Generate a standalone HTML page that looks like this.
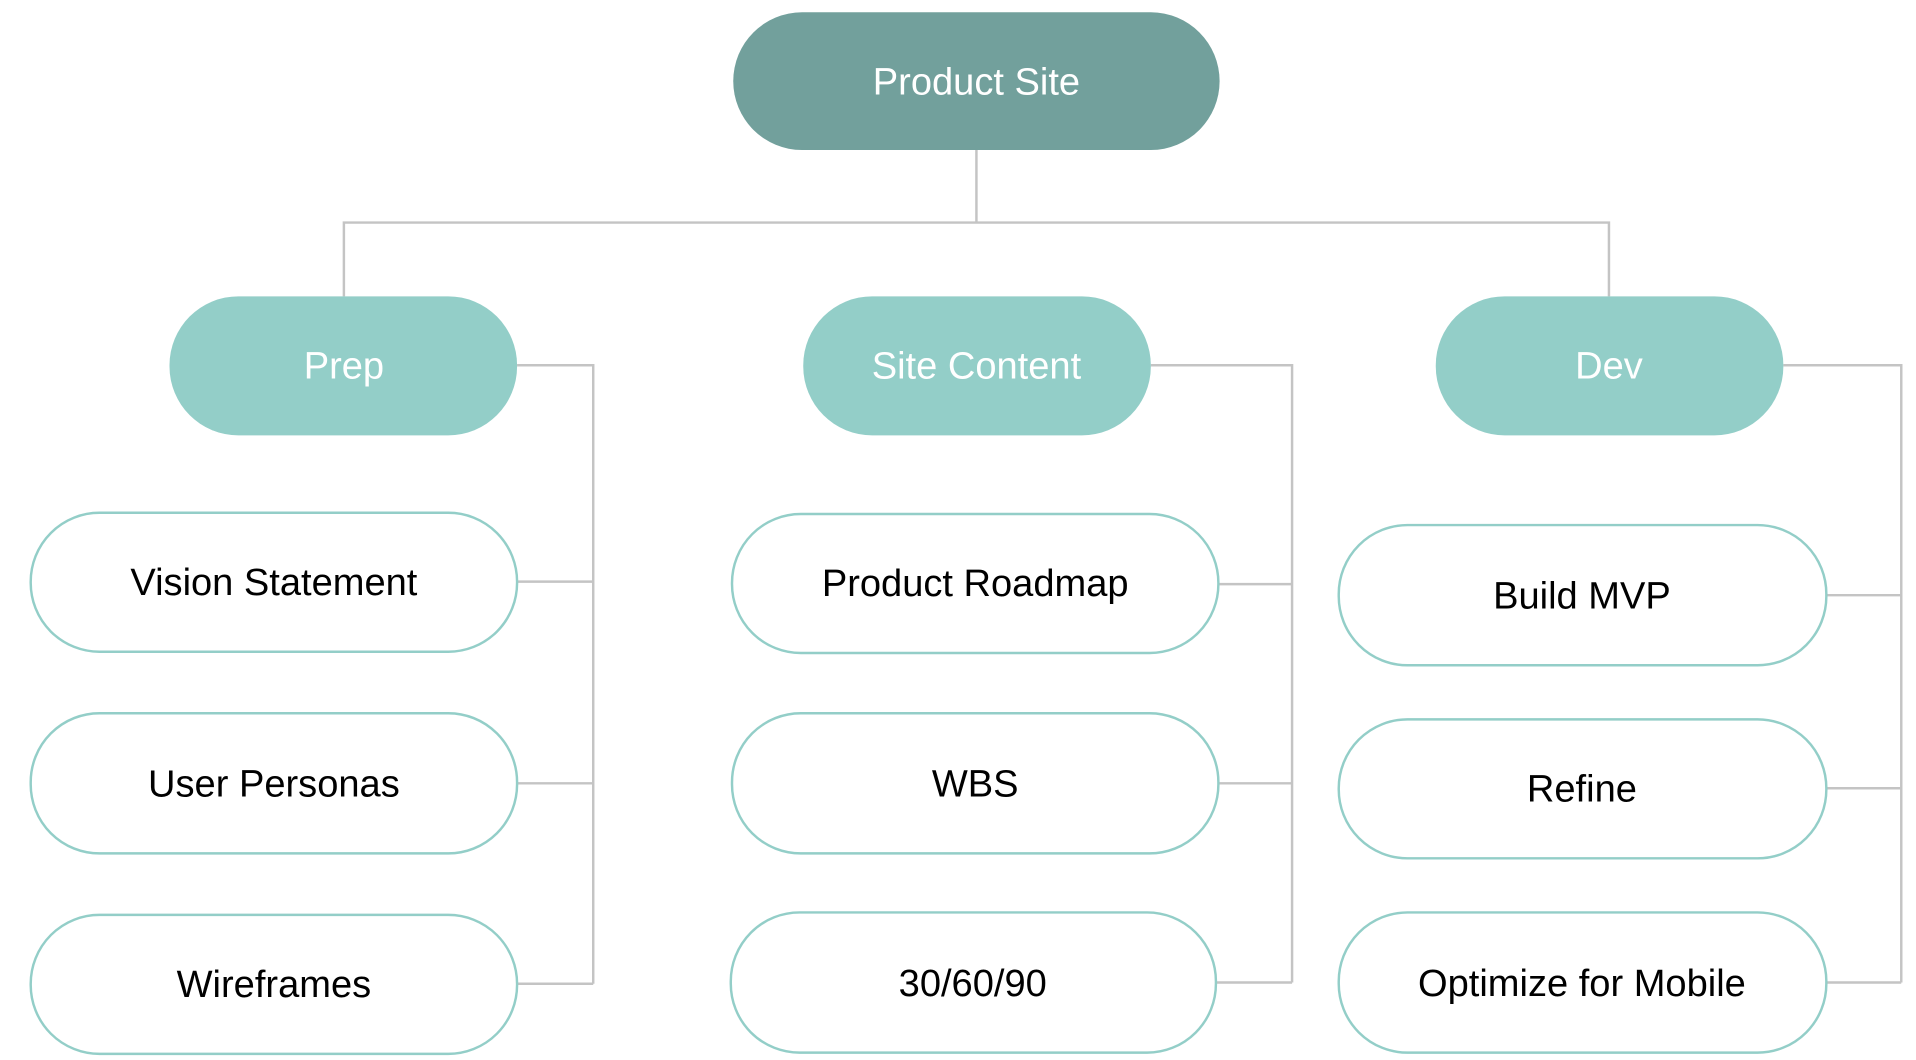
<!DOCTYPE html>
<html><head><meta charset="utf-8"><style>
html,body{margin:0;padding:0;background:#fff;width:1916px;height:1060px;overflow:hidden}
svg{display:block}
text{font-family:"Liberation Sans",sans-serif;font-size:31px;text-anchor:middle;dominant-baseline:central}
</style></head><body>
<svg width="1916" height="1060" viewBox="0 0 1560 862" preserveAspectRatio="none">
<g stroke="#c4c4c4" stroke-width="2" fill="none">
<path d="M795 122V181M280 241V181H1310V241"/>
<path d="M421 297H483V800M421 473H483M421 637H483M421 800H483"/>
<path d="M937 297H1052V799M992 475H1052M992 637H1052M990 799H1052"/>
<path d="M1452 297H1548V799M1487 484H1548M1487 641H1548M1487 799H1548"/>
</g>
<rect x="597" y="10" width="396" height="112" rx="56" fill="#72a09c"/>
<text x="795" y="67" fill="#fff">Product Site</text>
<g fill="#93cec8">
<rect x="138" y="241" width="283" height="113" rx="56"/>
<rect x="654" y="241" width="283" height="113" rx="56"/>
<rect x="1169" y="241" width="283" height="113" rx="56"/>
</g>
<g fill="#fff">
<text x="280" y="298">Prep</text>
<text x="795" y="298">Site Content</text>
<text x="1310" y="298">Dev</text>
</g>
<g fill="#fff" stroke="#93cec8" stroke-width="2">
<rect x="25" y="417" width="396" height="113" rx="56"/>
<rect x="25" y="580" width="396" height="114" rx="56"/>
<rect x="25" y="744" width="396" height="113" rx="56"/>
<rect x="596" y="418" width="396" height="113" rx="56"/>
<rect x="596" y="580" width="396" height="114" rx="56"/>
<rect x="595" y="742" width="395" height="114" rx="56"/>
<rect x="1090" y="427" width="397" height="114" rx="56"/>
<rect x="1090" y="585" width="397" height="113" rx="56"/>
<rect x="1090" y="742" width="397" height="114" rx="56"/>
</g>
<g fill="#000">
<text x="223" y="474">Vision Statement</text>
<text x="223" y="638">User Personas</text>
<text x="223" y="801">Wireframes</text>
<text x="794" y="475">Product Roadmap</text>
<text x="794" y="638">WBS</text>
<text x="792" y="800">30/60/90</text>
<text x="1288" y="485">Build MVP</text>
<text x="1288" y="642">Refine</text>
<text x="1288" y="800">Optimize for Mobile</text>
</g>
</svg>
</body></html>
